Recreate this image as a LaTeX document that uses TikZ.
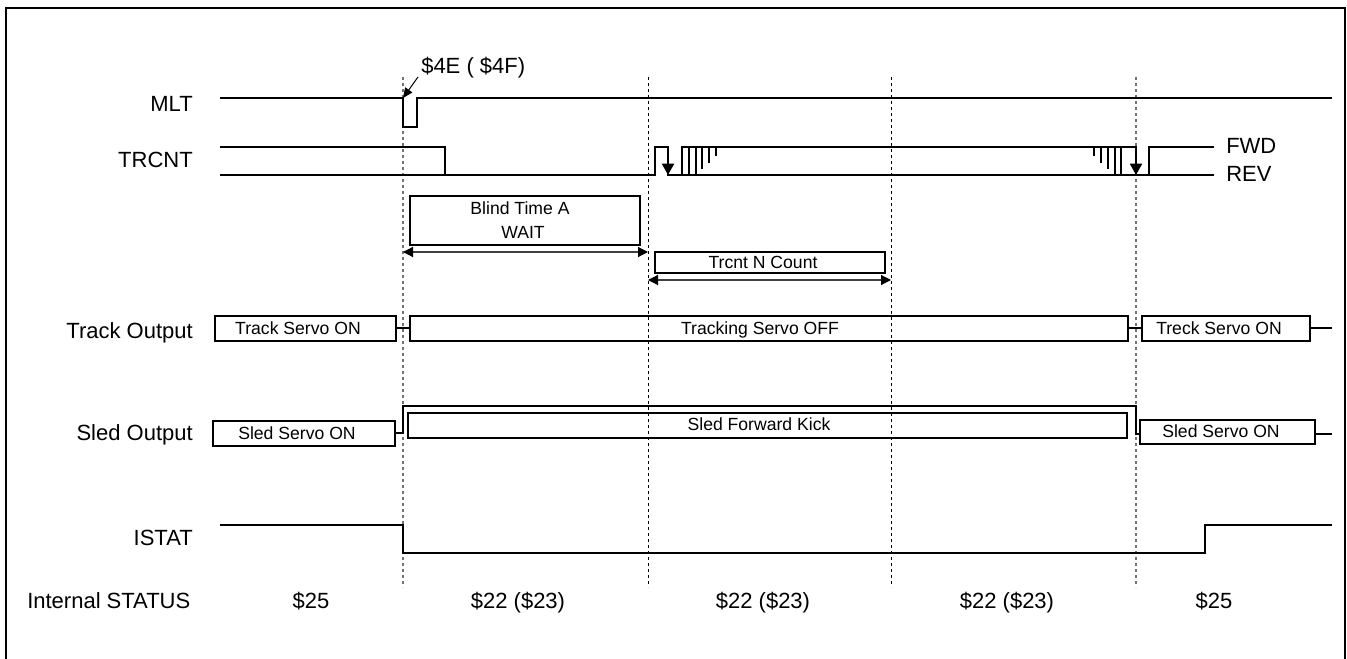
\documentclass[tikz,border=0pt]{standalone}
\usepackage{fontspec}
\setmainfont{Liberation Sans}
\usetikzlibrary{arrows.meta}
\tikzset{
  wave/.style={line width=1.5pt,line cap=rect,line join=miter},
  guide/.style={line width=0.75pt,dash pattern=on 2.25pt off 2.25pt},
  guidefaint/.style={guide,line width=1.1pt,black!55},
  span/.style={line width=0.9pt,black!75,{Triangle[length=7.5pt,width=7.5pt,black]}-{Triangle[length=7.5pt,width=7.5pt,black]}},
  drop/.style={line width=1.5pt,-{Triangle[length=8.5pt,width=9pt]}},
  statebox/.style={draw,line width=1.5pt,inner sep=0pt,outer sep=0pt},
  siglabel/.style={font=\fontsize{16.5}{18}\selectfont,inner sep=0pt,text height=11.8pt,text depth=0pt},
  boxtext/.style={font=\fontsize{13.2}{15}\selectfont,inner sep=0pt,text height=9.5pt,text depth=0pt}
}
\begin{document}
\begin{tikzpicture}[x=0.75pt,y=-0.75pt]
\useasboundingbox (0,0) rectangle (1347,659);
\draw[line width=1.5pt] (6,659)--(6,8)--(1345,8)--(1345,659);

\draw[guidefaint] (403,77)--(403,587);
\draw[guide] (648,77)--(648,587);
\draw[guide] (891,77)--(891,587);
\draw[guidefaint] (1136,77)--(1136,587);

\node[siglabel,anchor=east] (mlt) at (193,104) {MLT};
\node[siglabel,anchor=east] (trcnt) at (193,160) {TRCNT};
\node[siglabel,anchor=east] (trackout) at (193,331) {Track Output};
\node[siglabel,anchor=east] (sledout) at (193,433) {Sled Output};
\node[siglabel,anchor=east] (istat) at (193,538) {ISTAT};
\node[siglabel,anchor=west] (internal) at (27,601) {Internal STATUS};
\node[siglabel,anchor=west] (fwd) at (1226,146) {FWD};
\node[siglabel,anchor=west] (rev) at (1226,174) {REV};
\node[siglabel,anchor=west] (cmd) at (421,66) {\$4E ( \$4F)};
\node[siglabel] (stA) at (311,601) {\$25};
\node[siglabel] (stB) at (518,601) {\$22 (\$23)};
\node[siglabel] (stC) at (763,601) {\$22 (\$23)};
\node[siglabel] (stD) at (1007,601) {\$22 (\$23)};
\node[siglabel] (stE) at (1214,601) {\$25};

\coordinate (cmdfrom) at (418,77);
\coordinate (cmdto) at (403,98);
\draw[line width=0.75pt,-{Triangle[length=7.5pt,width=6.5pt]}] (cmdfrom)--(cmdto);

\draw[wave] (221,98)--(403,98)--(403,127)--(417,127)--(417,98)--(1331,98);
\draw[wave] (221,147)--(445,147)--(445,175);
\draw[wave] (221,175)--(655,175)--(655,147)--(668,147);
\draw[drop] (668,147)--(668,175);
\draw[wave] (668,175)--(1213,175);
\draw[wave] (682,175)--(682,147)--(1136,147);
\draw[wave] (689,147)--(689,175);
\draw[wave] (696,147)--(696,175);
\draw[wave] (702,147)--(702,168);
\draw[wave] (709,147)--(709,162);
\draw[wave] (716,147)--(716,155);
\draw[wave] (1094,147)--(1094,155);
\draw[wave] (1101,147)--(1101,162);
\draw[wave] (1108,147)--(1108,168);
\draw[wave] (1115,147)--(1115,175);
\draw[wave] (1121,147)--(1121,175);
\draw[drop] (1136,147)--(1136,175);
\draw[wave] (1149,175)--(1149,147)--(1213,147);

\node[statebox,minimum width=230*0.75pt,minimum height=49*0.75pt] (blind) at (525,220.5) {};
\node[boxtext] (blindA) at (520,208) {Blind Time A};
\node[boxtext] (blindB) at (523,232) {WAIT};
\node[statebox,minimum width=230*0.75pt,minimum height=21*0.75pt] (count) at (770,262.5) {};
\node[boxtext] (countA) at (763,262) {Trcnt N Count};
\coordinate (spanA) at (403,252);
\coordinate (spanB) at (648,252);
\coordinate (spanC) at (648,280);
\coordinate (spanD) at (891,280);
\draw[span] (spanA)--(spanB);
\draw[span] (spanC)--(spanD);

\node[statebox,minimum width=181*0.75pt,minimum height=25*0.75pt] (trackL) at (305.5,328.5) {};
\node[boxtext] (trackLt) at (298,328) {Track Servo ON};
\node[statebox,minimum width=718*0.75pt,minimum height=25*0.75pt] (trackM) at (769,328.5) {};
\node[boxtext] (trackMt) at (760,328) {Tracking Servo OFF};
\node[statebox,minimum width=168*0.75pt,minimum height=25*0.75pt] (trackR) at (1226,328.5) {};
\node[boxtext] (trackRt) at (1219,328) {Treck Servo ON};
\coordinate (trackend) at (1331,328.5);
\draw[wave] (trackL.east)--(trackM.west);
\draw[wave] (trackM.east)--(trackR.west);
\draw[wave] (trackR.east)--(trackend);

\node[statebox,minimum width=182*0.75pt,minimum height=25*0.75pt] (sledL) at (304,433.5) {};
\node[boxtext] (sledLt) at (297,433) {Sled Servo ON};
\node[statebox,minimum width=719*0.75pt,minimum height=25*0.75pt] (sledM) at (767.5,425.5) {};
\node[boxtext] (sledMt) at (759,424) {Sled Forward Kick};
\node[statebox,minimum width=175*0.75pt,minimum height=24*0.75pt] (sledR) at (1227.5,432) {};
\node[boxtext] (sledRt) at (1221,431) {Sled Servo ON};
\coordinate (sledend) at (1331,434);
\draw[wave] (sledL.east)--(403,433.5)--(403,406)--(1136,406)--(1136,434)--(sledR.west |- sledend);
\draw[wave] (sledR.east |- sledend)--(sledend);

\draw[wave] (221,525)--(403,525)--(403,552.5)--(1205,552.5)--(1205,525)--(1331,525);
\end{tikzpicture}
\end{document}
